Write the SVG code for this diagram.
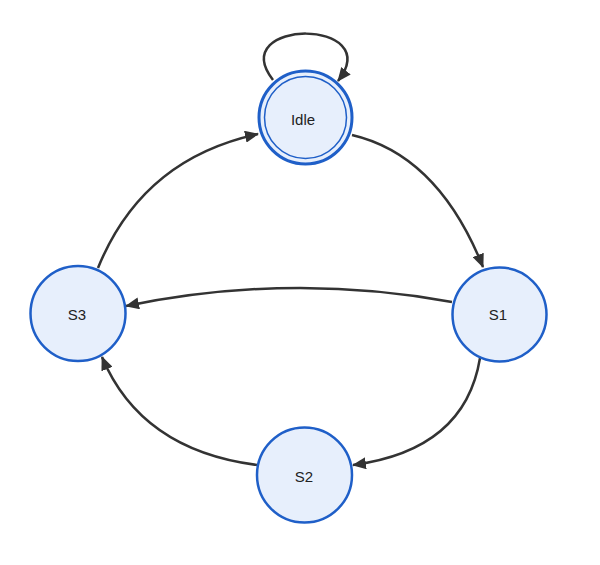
<svg xmlns="http://www.w3.org/2000/svg" width="600" height="565" viewBox="0 0 600 565">
<style>
.node{fill:#e7effc;stroke:#1f5fc8;stroke-width:2.5}
.outer{stroke-width:3}
.inner{fill:none;stroke:#1f5fc8;stroke-width:1.5}
.lbl{font-family:"Liberation Sans",Arial,sans-serif;font-size:15px;fill:#222;text-anchor:middle;dominant-baseline:central}
.edge{fill:none;stroke:#333;stroke-width:2.5;marker-end:url(#arr)}
</style>
<defs>
<marker id="arr" markerUnits="userSpaceOnUse" markerWidth="14" markerHeight="12" refX="13" refY="6" orient="auto">
<path d="M0,0 L14,6 L0,12 z" fill="#333"/>
</marker>
</defs>
<rect width="600" height="565" fill="#fff"/>
<g id="edges">
<path class="edge" d="M273,80 C225,18 387,18 338,81"/>
<path class="edge" d="M352,135 Q438,155 483,267"/>
<path class="edge" d="M452,302 Q291,272 126,306"/>
<path class="edge" d="M480,358 Q465,450 353,465"/>
<path class="edge" d="M257,465 Q141,450 102,357"/>
<path class="edge" d="M98,268 Q142,159 258,134"/>
</g>
<g id="node-idle">
<circle class="node outer" cx="305.5" cy="117.5" r="46.5"/>
<circle class="inner" cx="305.5" cy="117.5" r="41"/>
<text class="lbl" x="303" y="119">Idle</text>
</g>
<g id="node-s1">
<circle class="node" cx="499.5" cy="314.5" r="47"/>
<text class="lbl" x="498" y="314">S1</text>
</g>
<g id="node-s3">
<circle class="node" cx="78" cy="313.5" r="47.5"/>
<text class="lbl" x="77" y="314">S3</text>
</g>
<g id="node-s2">
<circle class="node" cx="304.5" cy="475" r="47.5"/>
<text class="lbl" x="304" y="476">S2</text>
</g>
</svg>
